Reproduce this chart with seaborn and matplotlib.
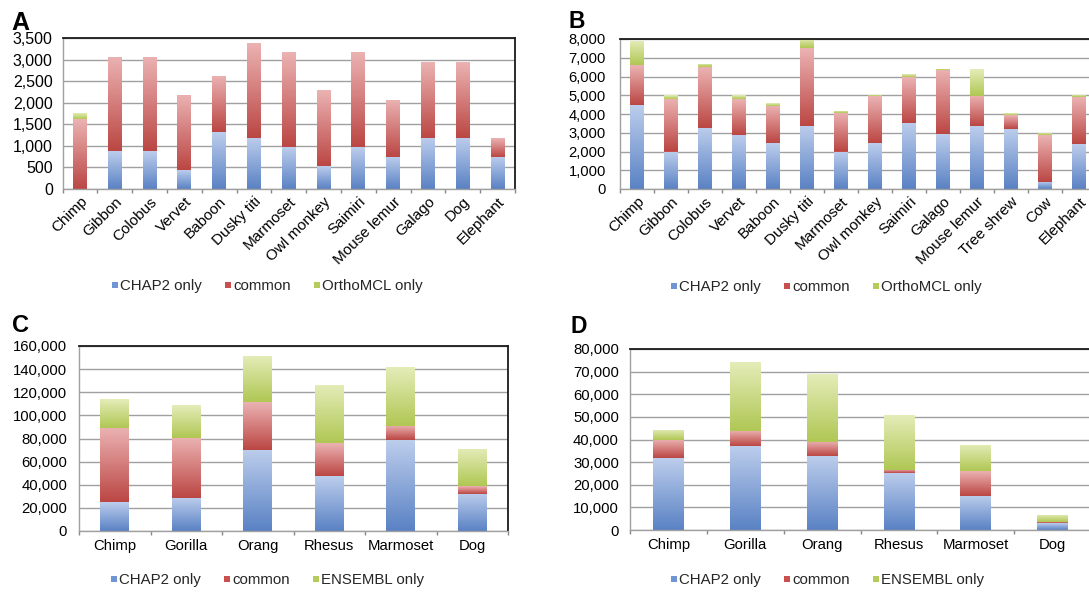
import numpy as np
import matplotlib
matplotlib.use("Agg")
import matplotlib.pyplot as plt
import seaborn as sns
from matplotlib.colors import LinearSegmentedColormap
from matplotlib.lines import Line2D
from matplotlib.ticker import FuncFormatter, FixedLocator

# panel A: gene families, CHAP2 vs OrthoMCL
species_a = ["Chimp", "Gibbon", "Colobus", "Vervet", "Baboon", "Dusky titi", "Marmoset",
             "Owl monkey", "Saimiri", "Mouse lemur", "Galago", "Dog", "Elephant"]
chap2_a = [0, 870, 870, 430, 1315, 1185, 970, 530, 970, 745, 1185, 1185, 745]
common_a = [1615, 2200, 2200, 1760, 1315, 2200, 2200, 1760, 2200, 1325, 1760, 1760, 440]
ortho_a = [139, 0, 0, 0, 0, 0, 0, 0, 0, 0, 0, 0, 0]

# panel B
species_b = ["Chimp", "Gibbon", "Colobus", "Vervet", "Baboon", "Dusky titi", "Marmoset",
             "Owl monkey", "Saimiri", "Galago", "Mouse lemur", "Tree shrew", "Cow", "Elephant"]
chap2_b = [4480, 2000, 3270, 2880, 2450, 3380, 2000, 2450, 3540, 2930, 3360, 3220, 390, 2400]
common_b = [2120, 2800, 3230, 1920, 1990, 4140, 2040, 2490, 2430, 3420, 1620, 730, 2490, 2490]
ortho_b = [1290, 200, 180, 210, 150, 510, 120, 70, 150, 70, 1400, 100, 110, 110]

# panel C: CHAP2 vs ENSEMBL
species_c = ["Chimp", "Gorilla", "Orang", "Rhesus", "Marmoset", "Dog"]
chap2_c = [24800, 28800, 70300, 47500, 78400, 32300]
common_c = [64200, 51900, 41200, 28300, 12600, 6600]
ensembl_c = [25000, 28300, 39800, 50700, 50800, 32000]

# panel D
species_d = ["Chimp", "Gorilla", "Orang", "Rhesus", "Marmoset", "Dog"]
chap2_d = [31700, 37000, 32500, 25200, 15100, 2950]
common_d = [8000, 6800, 6300, 1400, 10900, 450]
ensembl_d = [4600, 30400, 30000, 24200, 11600, 3100]

sns.set_theme(style="white")
plt.rcParams["font.family"] = ["Liberation Sans", "DejaVu Sans"]

BLUE = ("#5a82c4", "#bccdec", "#6f95d5")
RED = ("#bb4744", "#ebb2b2", "#c9504e")
GREEN = ("#b0c754", "#e4ecb8", "#b5cc5a")

W, H = 1089, 592
fig = plt.figure(figsize=(W / 100, H / 100), dpi=100)


def box(left, top, right, bottom):
    return [left / W, 1 - bottom / H, (right - left) / W, (bottom - top) / H]


def shade(ax, bars, dark, light):
    cmap = LinearSegmentedColormap.from_list("g", [dark, light])
    for p in bars:
        h = p.get_height()
        if h <= 0:
            continue
        x0, y0, w = p.get_x(), p.get_y(), p.get_width()
        img = ax.imshow(np.linspace(0, 1, 64).reshape(-1, 1), cmap=cmap, origin="lower",
                        extent=(x0, x0 + w, y0, y0 + h), aspect="auto",
                        zorder=p.get_zorder() + 0.1, interpolation="bilinear")
        img.set_clip_path(p)


def panel(rect, names, s1, s2, s3, ymax, ystep, labels, rot, ytsize, ypad, xtsize, leg_xy, tag, tag_xy, tag_size):
    ax = fig.add_axes(rect)
    s1, s2, s3 = np.array(s1), np.array(s2), np.array(s3)
    parts = [(s1, np.zeros_like(s1), BLUE), (s2, s1, RED), (s3, s1 + s2, GREEN)]
    for vals, base, col in parts:
        sns.barplot(x=names, y=vals, bottom=base, color=col[2], saturation=1,
                    width=0.4, ax=ax, linewidth=0)
        shade(ax, ax.containers[-1], col[0], col[1])
    n = len(names)
    ax.set_xlim(-0.5, n - 0.5)
    ax.set_ylim(0, ymax)
    ax.set_yticks(np.arange(0, ymax + 1, ystep))
    ax.yaxis.set_major_formatter(FuncFormatter(lambda v, _: f"{int(v):,}"))
    ax.grid(axis="y", color="#a0a0a0", linewidth=1)
    ax.set_axisbelow(True)
    ax.tick_params(axis="y", length=0, pad=ypad, labelsize=ytsize, labelcolor="black")
    ax.xaxis.set_minor_locator(FixedLocator(np.arange(-0.5, n, 1.0)))
    ax.tick_params(axis="x", which="major", length=0, labelsize=xtsize, labelcolor="black", pad=6)
    ax.tick_params(axis="x", which="minor", length=3, color="#888888", bottom=True, direction="out")
    if rot:
        plt.setp(ax.get_xticklabels(), rotation=45, ha="right", va="top", rotation_mode="anchor")
        ax.tick_params(axis="x", which="major", pad=4)
    ax.set_xlabel("")
    ax.set_ylabel("")
    for side in ("top", "right"):
        ax.spines[side].set_color("#1a1a1a")
        ax.spines[side].set_linewidth(1.3)
    for side in ("left", "bottom"):
        ax.spines[side].set_color("#a0a0a0")
        ax.spines[side].set_linewidth(1)
    handles = [Line2D([], [], linestyle="none", marker="s", markersize=4.5,
                      markerfacecolor=c[2], markeredgewidth=0) for c in (BLUE, RED, GREEN)]
    ax.legend(handles, labels, loc="center", ncol=3, frameon=False,
              bbox_to_anchor=(leg_xy[0] / W, 1 - leg_xy[1] / H), bbox_transform=fig.transFigure,
              handlelength=0.5, handletextpad=0.1, columnspacing=1.5, fontsize=10.8)
    fig.text(tag_xy[0] / W, 1 - tag_xy[1] / H, tag, fontsize=tag_size, weight="bold",
             ha="left", va="baseline", color="black")
    return ax


panel(box(62.5, 38, 515, 189), species_a, chap2_a, common_a, ortho_a, 3500, 500,
      ["CHAP2 only", "common", "OrthoMCL only"], True, 11.5, 7, 11, (267, 286), "A", (11, 30), 18)
panel(box(620, 39, 1096, 189), species_b, chap2_b, common_b, ortho_b, 8000, 1000,
      ["CHAP2 only", "common", "OrthoMCL only"], True, 10.6, 10, 11, (826, 287), "B", (569, 28), 16.5)
panel(box(79, 346, 508, 531), species_c, chap2_c, common_c, ensembl_c, 160000, 20000,
      ["CHAP2 only", "common", "ENSEMBL only"], False, 10.7, 8.5, 10.7, (267, 580), "C", (12, 332), 17)
panel(box(630, 349, 1091, 530), species_d, chap2_d, common_d, ensembl_d, 80000, 10000,
      ["CHAP2 only", "common", "ENSEMBL only"], False, 10.7, 8, 10.7, (827, 580), "D", (570, 333), 16.5)

fig.savefig("out.png", dpi=100)
